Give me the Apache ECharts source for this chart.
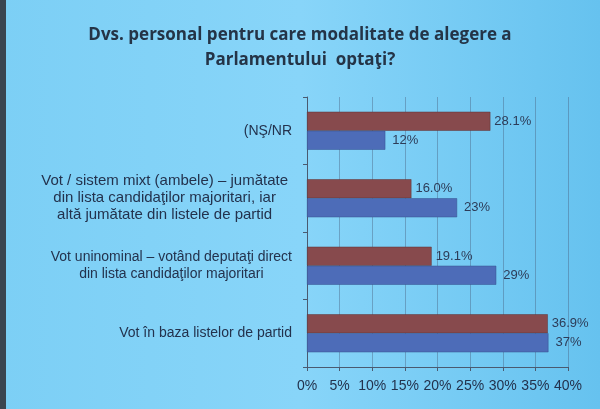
<!DOCTYPE html>
<html>
<head>
<meta charset="utf-8">
<script src="https://cdn.jsdelivr.net/npm/echarts@6/dist/echarts.min.js"></script>
<style>
  html, body { margin: 0; padding: 0; }
  #chart { width: 600px; height: 409px; }
</style>
</head>
<body>
<div id="chart"></div>
<script>
// categorii, de sus in jos
var categories = [
    '(NŞ/NR',
    'Vot / sistem mixt (ambele) – jumătate\ndin lista candidaţilor majoritari, iar\naltă jumătate din listele de partid',
    'Vot uninominal – votând deputaţi direct\ndin lista candidaţilor majoritari',
    'Vot în baza listelor de partid'
];
var brownValues = [28.1, 16.0, 19.1, 36.9]; // seria maro (o zecimala)
var blueValues = [12, 23, 29, 37];          // seria albastra (intregi)
var xTicks = [0, 5, 10, 15, 20, 25, 30, 35, 40];

var textColor = '#23324d';

var myChart = echarts.init(document.getElementById('chart'));

var option = {
    backgroundColor: {
        type: 'linear', x: 0, y: 0, x2: 1, y2: 0,
        colorStops: [
            { offset: 0, color: '#7ccff5' },
            { offset: 0.5, color: '#88d5f9' },
            { offset: 1, color: '#66c2ef' }
        ]
    },
    title: {
        text: 'Dvs. personal pentru care modalitate de alegere a\nParlamentului  optaţi?',
        left: 'center',
        top: 18,
        textStyle: {
            fontFamily: 'Open Sans',
            fontSize: 17,
            fontWeight: 'bold',
            color: '#243447',
            lineHeight: 25
        }
    },
    graphic: [
        { type: 'rect', left: 0, top: 0, shape: { width: 6, height: 409 }, style: { fill: '#3a4550' } }
    ],
    grid: {
        left: 307,
        right: 32,
        top: 97,
        bottom: 42
    },
    xAxis: {
        type: 'value',
        min: xTicks[0],
        max: xTicks[xTicks.length - 1],
        interval: 5,
        axisLine: { show: true, lineStyle: { color: '#4a5a70', width: 1 } },
        axisTick: { show: true, length: 4, lineStyle: { color: '#4a5a70' } },
        axisLabel: {
            formatter: '{value}%',
            color: textColor,
            fontFamily: 'Liberation Sans',
            fontSize: 14,
            margin: 12
        },
        splitLine: { show: true, lineStyle: { color: 'rgba(70,90,120,0.4)', width: 1 } }
    },
    yAxis: {
        type: 'category',
        inverse: true,
        data: categories,
        axisLine: { show: true, lineStyle: { color: '#4a5a70', width: 1 } },
        axisTick: { show: true, length: 4, lineStyle: { color: '#4a5a70' } },
        axisLabel: {
            margin: 15,
            align: 'right',
            color: textColor,
            fontFamily: 'Liberation Sans',
            fontSize: 14,
            lineHeight: 17,
            formatter: function (value, idx) {
                // fiecare rand centrat in blocul aliniat la dreapta
                var st = idx === 1 ? 'w' : 'c';
                return value.split('\n').map(function (l) { return '{' + st + '|' + l + '}'; }).join('\n');
            },
            rich: {
                c: { align: 'center', color: textColor, fontFamily: 'Liberation Sans', fontSize: 14, lineHeight: 17 },
                w: { align: 'center', color: textColor, fontFamily: 'Liberation Sans', fontSize: 15, lineHeight: 17, padding: [0, 4, 0, 0] }
            }
        }
    },
    series: [
        {
            name: 'maro',
            type: 'bar',
            data: brownValues,
            barWidth: 19,
            barGap: '0%',
            itemStyle: { color: '#874a4d', borderColor: '#5d3236', borderWidth: 0.5 },
            label: {
                show: true,
                position: 'right',
                distance: 4,
                color: '#2d3c58',
                fontFamily: 'Liberation Sans',
                fontSize: 13,
                formatter: function (p) { return p.value.toFixed(1) + '%'; }
            }
        },
        {
            name: 'albastru',
            type: 'bar',
            data: blueValues,
            barWidth: 19,
            barGap: '0%',
            itemStyle: { color: '#4d6cb8', borderColor: '#34508f', borderWidth: 0.5 },
            label: {
                show: true,
                position: 'right',
                distance: 7,
                color: '#2d3c58',
                fontFamily: 'Liberation Sans',
                fontSize: 13,
                formatter: '{c}%'
            }
        }
    ]
};

myChart.setOption(option);
</script>
</body>
</html>
